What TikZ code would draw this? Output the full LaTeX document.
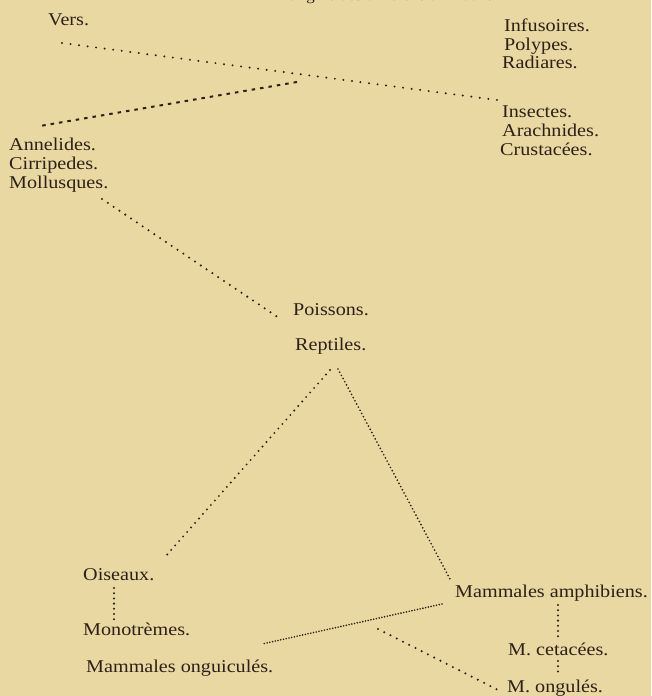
\documentclass[tikz,border=0pt]{standalone}
\usepackage{fontspec}
\setmainfont{Liberation Serif}[FakeStretch=1.12]
\definecolor{bg}{RGB}{233,216,162}
\definecolor{ink}{RGB}{45,32,24}
\begin{document}
\begin{tikzpicture}[x=1pt,y=-1pt,
  lbl/.style={anchor=base west,inner sep=0pt,text=ink,font=\fontsize{18}{19}\selectfont},
  dotline/.style={draw=ink,line width=#1,line cap=round},
  dotted8/.style={dotline=2.2pt,dash pattern=on 0pt off 8.6pt},
  dotted7/.style={dotline=2.3pt,dash pattern=on 0pt off 7pt},
  dotted6/.style={dotline=2.1pt,dash pattern=on 0pt off 6pt},
  dotted5/.style={dotline=2.3pt,dash pattern=on 0pt off 5.2pt},
  dotted4/.style={dotline=1.9pt,dash pattern=on 0pt off 3.6pt},
  dotted3/.style={dotline=1.8pt,dash pattern=on 0pt off 2.8pt},
  dashline/.style={draw=ink,line width=2pt,dash pattern=on 3.5pt off 5pt}]
\fill[bg] (0,0) rectangle (651,696);
\useasboundingbox (0,0) rectangle (651,696);

% partially visible title
\node[lbl,anchor=base east,font=\fontsize{15}{16}\selectfont] (title) at (492,1) {l'origine des différens animaux.};

% labels
\node[lbl] (vers) at (48,25) {Vers.};
\node[lbl] (infus) at (504,31) {Infusoires.};
\node[lbl] (polyp) at (504,50) {Polypes.};
\node[lbl] (radia) at (502,68) {Radiares.};
\node[lbl] (insec) at (502,117) {Insectes.};
\node[lbl] (arach) at (502,136) {Arachnides.};
\node[lbl] (crust) at (500,155) {Crustacées.};
\node[lbl] (annel) at (9,150) {Annelides.};
\node[lbl] (cirri) at (9,169) {Cirripedes.};
\node[lbl] (mollu) at (9,188) {Mollusques.};
\node[lbl] (poiss) at (293,315) {Poissons.};
\node[lbl] (repti) at (295,350) {Reptiles.};
\node[lbl] (oisea) at (83,580) {Oiseaux.};
\node[lbl] (monot) at (83,635) {Monotrèmes.};
\node[lbl] (onguic) at (86,672) {Mammales onguiculés.};
\node[lbl] (amphi) at (455,597) {Mammales amphibiens.};
\node[lbl] (cetac) at (508,655) {M. cetacées.};
\node[lbl] (ongul) at (507,692) {M. ongulés.};

% connector end points
\coordinate (c1a) at (62,43);
\coordinate (c1b) at (497,100);
\coordinate (c2a) at (297,82);
\coordinate (c2b) at (40,126);
\coordinate (c3a) at (102,199);
\coordinate (c3b) at (282,320);
\coordinate (c4a) at (330,370);
\coordinate (c4b) at (165,557);
\coordinate (c5a) at (338,369);
\coordinate (c5b) at (450,579);
\coordinate (c6a) at (114,588);
\coordinate (c6b) at (114,620);
\coordinate (c7a) at (442,604);
\coordinate (c7b) at (262,644);
\coordinate (c8a) at (378,629);
\coordinate (c8b) at (502,692);
\coordinate (c9a) at (558,605);
\coordinate (c9b) at (558,637);
\coordinate (c10a) at (558,661);
\coordinate (c10b) at (558,675);

% connectors
\draw[dotted8] (c1a) -- (c1b);
\draw[dashline] (c2a) -- (c2b);
\draw[dotted7] (c3a) -- (c3b);
\draw[dotted6] (c4a) -- (c4b);
\draw[dotted4] (c5a) -- (c5b);
\draw[dotted5] (c6a) -- (c6b);
\draw[dotted3] (c7a) -- (c7b);
\draw[dotted7] (c8a) -- (c8b);
\draw[dotted5] (c9a) -- (c9b);
\draw[dotted5] (c10a) -- (c10b);
\end{tikzpicture}
\end{document}
